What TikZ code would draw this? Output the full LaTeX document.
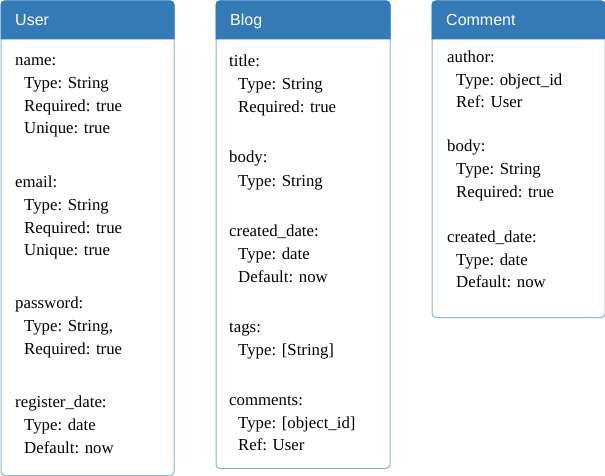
\documentclass[tikz,border=0pt]{standalone}
\usepackage{fontspec}
\setmainfont{Liberation Serif}
\newfontfamily\headfont{Liberation Sans}
\definecolor{hdr}{HTML}{337AB7}
\definecolor{edge}{HTML}{8CB3D9}

\begin{document}
\begin{tikzpicture}[x=1pt,y=-1pt,
  entity/.style={draw=edge, line width=1pt, rounded corners=4pt, anchor=north west,
    inner sep=0pt, fill=white},
  headbar/.style={fill=hdr},
  title/.style={anchor=base west, inner sep=0pt, text=white,
    font=\headfont\fontsize{16}{19}\selectfont},
  field/.style={anchor=base west, inner sep=0pt,
    font=\fontsize{16.8}{22}\selectfont},
]
\useasboundingbox (0,0) rectangle (605,476);

% entity boxes
\node[entity, minimum width=173pt, minimum height=474.5pt] (user) at (0.5,0.5) {};
\node[entity, minimum width=174pt, minimum height=467.5pt] (blog) at (215.5,0.5) {};
\node[entity, minimum width=173pt, minimum height=316.5pt] (comment) at (431.5,0.5) {};

% header bars
\foreach \e in {user,blog,comment}{
  \fill[headbar] ([yshift=-39pt]\e.north west) [rounded corners=4pt]
    -- (\e.north west) -- (\e.north east) [sharp corners]
    -- ([yshift=-39pt]\e.north east) -- cycle;
}

\begin{scope}[yshift=-1pt]
\node[title] (userT) at (15,25) {User};
\node[title] (blogT) at (230,25) {Blog};
\node[title] (commentT) at (446,25) {Comment};

% User fields
\node[field] (u1)  at (15,65)  {name:};
\node[field] (u2)  at (24,88)  {Type: String};
\node[field] (u3)  at (24,111) {Required: true};
\node[field] (u4)  at (24,133) {Unique: true};
\node[field] (u5)  at (15,186) {email:};
\node[field] (u6)  at (24,209) {Type: String};
\node[field] (u7)  at (24,232) {Required: true};
\node[field] (u8)  at (24,254) {Unique: true};
\node[field] (u9)  at (15,307) {password:};
\node[field] (u10) at (24,330) {Type: String,};
\node[field] (u11) at (24,353) {Required: true};
\node[field] (u12) at (15,406) {register\_date:};
\node[field] (u13) at (24,429) {Type: date};
\node[field] (u14) at (24,452) {Default: now};

% Blog fields
\node[field] (b1)  at (229,66)  {title:};
\node[field] (b2)  at (238,89)  {Type: String};
\node[field] (b3)  at (238,112) {Required: true};
\node[field] (b4)  at (229,162) {body:};
\node[field] (b5)  at (238,185) {Type: String};
\node[field] (b6)  at (229,235) {created\_date:};
\node[field] (b7)  at (238,258) {Type: date};
\node[field] (b8)  at (238,281) {Default: now};
\node[field] (b9)  at (229,331) {tags:};
\node[field] (b10) at (238,354) {Type: [String]};
\node[field] (b11) at (229,404) {comments:};
\node[field] (b12) at (238,427) {Type: [object\_id]};
\node[field] (b13) at (238,449) {Ref: User};

% Comment fields
\node[field] (c1) at (447,62)  {author:};
\node[field] (c2) at (456,85)  {Type: object\_id};
\node[field] (c3) at (456,107) {Ref: User};
\node[field] (c4) at (447,151) {body:};
\node[field] (c5) at (456,174) {Type: String};
\node[field] (c6) at (456,196) {Required: true};
\node[field] (c7) at (447,241) {created\_date:};
\node[field] (c8) at (456,264) {Type: date};
\node[field] (c9) at (456,286) {Default: now};
\end{scope}
\end{tikzpicture}
\end{document}
